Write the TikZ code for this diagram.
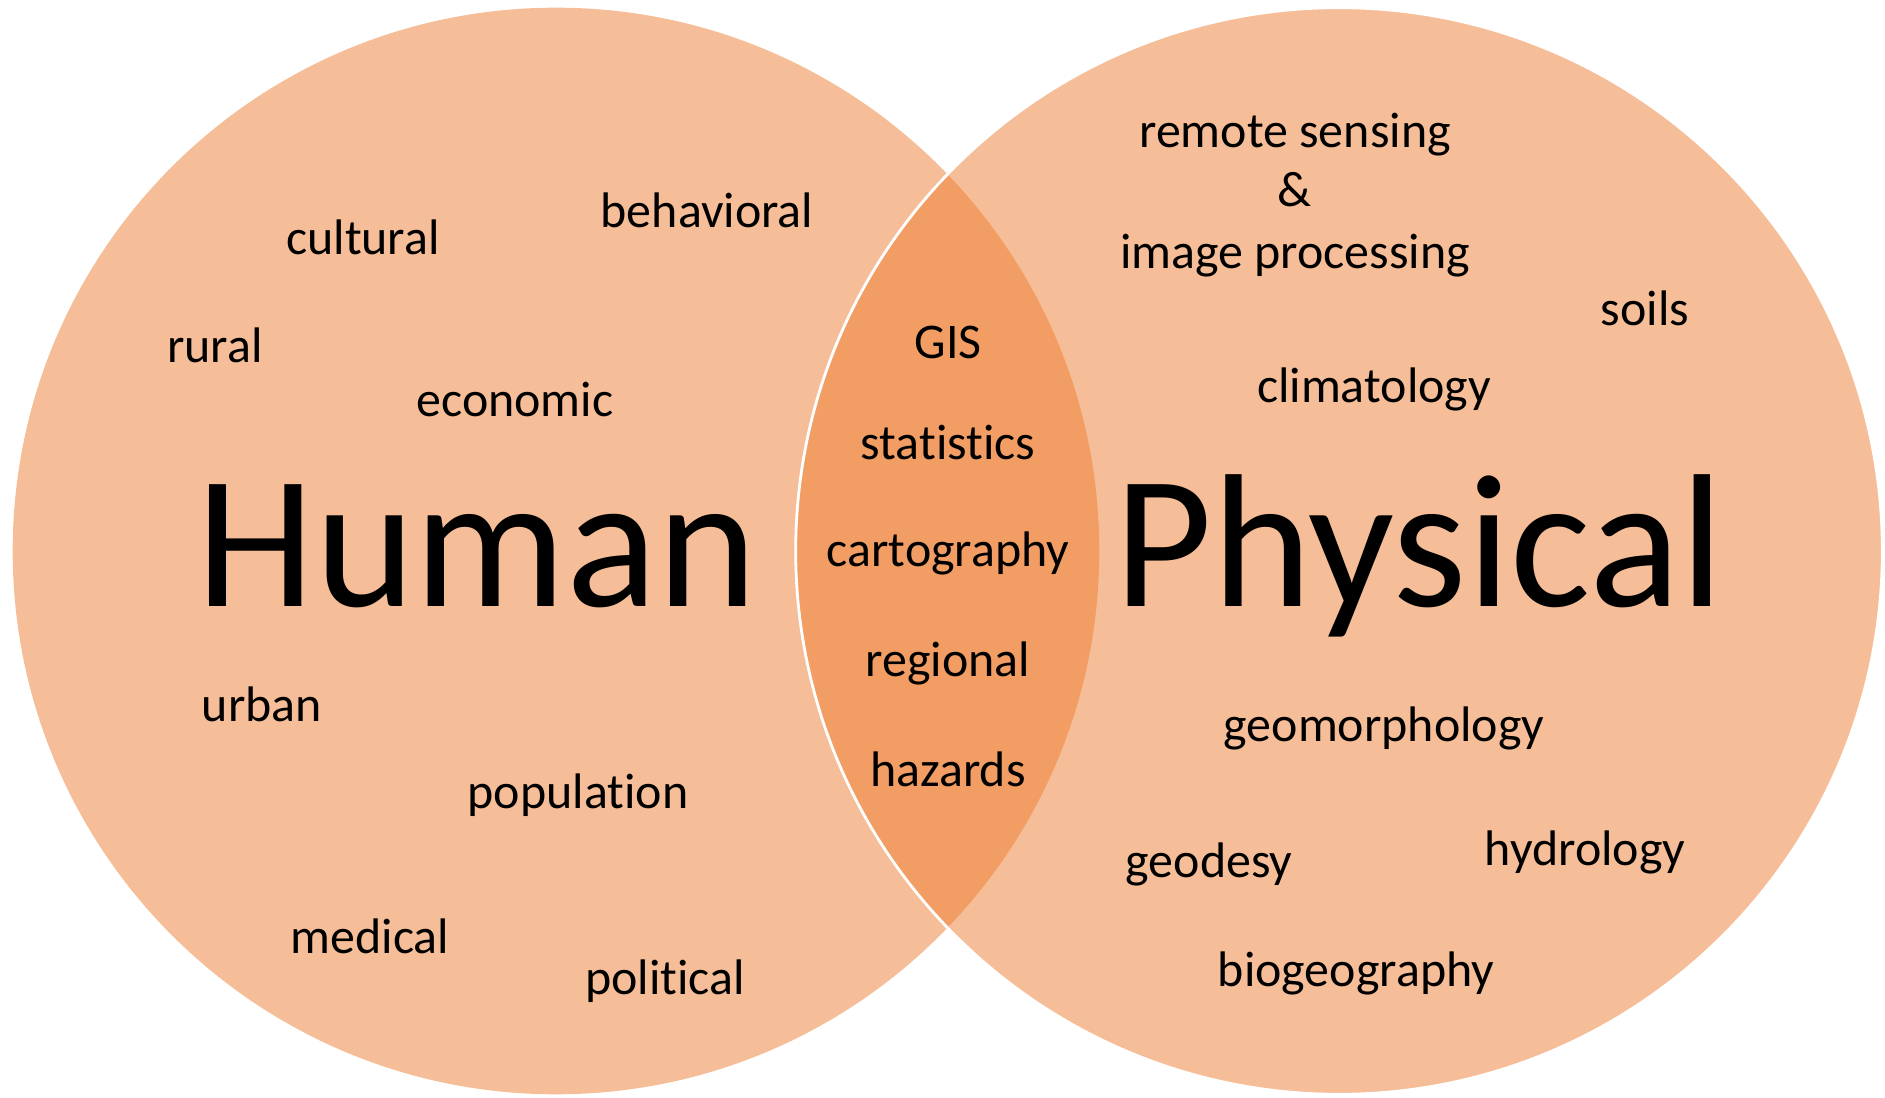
\documentclass[tikz,border=0pt]{standalone}
\usepackage{fontspec}
\setmainfont[Ligatures=NoCommon]{Carlito}
\definecolor{accent}{RGB}{237,125,49}

\begin{document}
\begin{tikzpicture}[x=0.01cm, y=-0.01cm,
		set/.style={circle, fill=accent, fill opacity=0.5, inner sep=0pt, minimum size=10.86cm},
		term/.style={anchor=base, font=\fontsize{14.2}{17}\selectfont},
		title/.style={anchor=base, font=\fontsize{54}{60}\selectfont}]
		\useasboundingbox (0,0) rectangle (1885,1098);
		
		\node[set] (hum) at (556,551) {};
		\node[set, draw=white, line width=0.8pt] (phys) at (1339,551) {};
		
		\node[title] (humtitle) at (477,607) {Human};
		\node[title] (phystitle) at (1419,607) {Physical};
		
		\foreach \n\s\x\y in {1/cultural/363/255, 2/behavioral/707/228,
			3/rural/215/363, 4/economic/515/417,
			5/urban/262/722, 6/population/578/809,
			7/medical/370/953, 8/political/665/994}
		\node[term] (h\n) at (\x,\y) {\s};
		
		\foreach \n\s\y in {1/GIS/359, 2/statistics/460, 3/cartography/567,
			4/regional/677, 5/hazards/787}
		\node[term] (c\n) at (948,\y) {\s};
		
		\foreach \n\s\x\y in {1/remote sensing/1295/148, 2/\&/1295/207,
			3/image processing/1295/269, 4/soils/1645/326,
			5/climatology/1374/403, 6/geomorphology/1384/742,
			7/geodesy/1209/878, 8/hydrology/1585/866,
			9/biogeography/1356/986}
		\node[term] (p\n) at (\x,\y) {\s};
		
	\end{tikzpicture}
\end{document}
